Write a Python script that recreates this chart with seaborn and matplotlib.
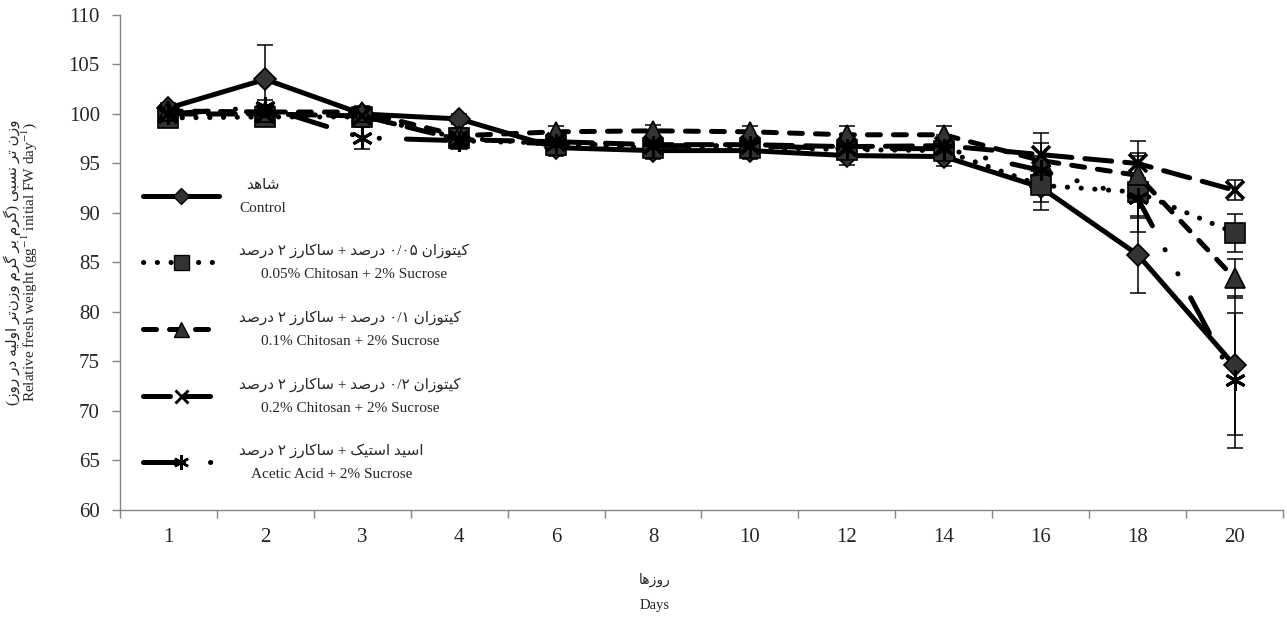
import re
import numpy as np
import pandas as pd
import matplotlib
matplotlib.use("Agg")
import matplotlib.pyplot as plt
from matplotlib.lines import Line2D
from matplotlib.ticker import FixedLocator, MultipleLocator
import seaborn as sns

# ---------------------------------------------------------------- data
days = ["1", "2", "3", "4", "6", "8", "10", "12", "14", "16", "18", "20"]

control = [100.6, 103.5, 100.0, 99.5, 96.6, 96.3, 96.3, 95.8, 95.7, 92.6, 85.8, 74.6]
chit005 = [99.6, 99.7, 99.7, 97.6, 96.9, 96.6, 96.6, 96.4, 96.3, 92.8, 92.1, 88.0]
chit01 = [100.3, 100.2, 100.2, 97.8, 98.2, 98.3, 98.2, 97.9, 97.9, 95.3, 93.8, 83.4]
chit02 = [100.0, 100.0, 99.8, 97.4, 97.2, 96.9, 96.9, 96.7, 96.8, 95.9, 95.0, 92.3]
acetic = [100.0, 100.7, 97.6, 97.3, 97.0, 96.8, 96.8, 96.5, 96.5, 94.3, 91.5, 73.1]

control_sd = [0.5, 3.5, 0.6, 0.5, 0.8, 0.8, 0.8, 1.0, 1.0, 1.5, 3.9, 7.0]
chit005_sd = [0.5, 0.6, 0.6, 0.8, 0.7, 0.7, 0.7, 1.0, 1.0, 2.5, 4.0, 1.9]
chit01_sd = [0.4, 0.5, 0.6, 0.8, 0.6, 0.6, 0.6, 0.9, 0.9, 1.8, 2.0, 2.0]
chit02_sd = [0.5, 0.6, 0.6, 0.8, 0.7, 0.7, 0.7, 1.0, 1.1, 2.2, 2.3, 1.0]
acetic_sd = [0.5, 0.7, 1.1, 0.8, 0.7, 0.7, 0.7, 1.0, 1.0, 1.5, 2.0, 6.8]

labels_fa = ["شاهد",
             "کیتوزان ۰/۰۵ درصد + ساکارز ۲ درصد",
             "کیتوزان ۰/۱ درصد + ساکارز ۲ درصد",
             "کیتوزان ۰/۲ درصد + ساکارز ۲ درصد",
             "اسید استیک + ساکارز ۲ درصد"]
labels_en = ["Control",
             "0.05% Chitosan + 2% Sucrose",
             "0.1% Chitosan + 2% Sucrose",
             "0.2% Chitosan + 2% Sucrose",
             "Acetic Acid + 2% Sucrose"]
ylabel_fa = "وزن تر نسبی (گرم بر گرم وزن\u200cتر اولیه در روز)"
ylabel_en = "Relative fresh weight (gg$^{-1}$ initial FW day$^{-1}$)"
xlabel_fa = "روزها"
xlabel_en = "Days"

# ------------------------------------------------ Persian glyph shaping
# (isolated, final, initial, medial) presentation forms
FORMS = {
    "ا": ("\uFE8D", "\uFE8E", None, None),
    "ب": ("\uFE8F", "\uFE90", "\uFE91", "\uFE92"),
    "ت": ("\uFE95", "\uFE96", "\uFE97", "\uFE98"),
    "د": ("\uFEA9", "\uFEAA", None, None),
    "ر": ("\uFEAD", "\uFEAE", None, None),
    "ز": ("\uFEAF", "\uFEB0", None, None),
    "س": ("\uFEB1", "\uFEB2", "\uFEB3", "\uFEB4"),
    "ش": ("\uFEB5", "\uFEB6", "\uFEB7", "\uFEB8"),
    "ص": ("\uFEB9", "\uFEBA", "\uFEBB", "\uFEBC"),
    "ک": ("\uFB8E", "\uFB8F", "\uFB90", "\uFB91"),
    "گ": ("\uFB92", "\uFB93", "\uFB94", "\uFB95"),
    "ل": ("\uFEDD", "\uFEDE", "\uFEDF", "\uFEE0"),
    "م": ("\uFEE1", "\uFEE2", "\uFEE3", "\uFEE4"),
    "ن": ("\uFEE5", "\uFEE6", "\uFEE7", "\uFEE8"),
    "ه": ("\uFEE9", "\uFEEA", "\uFEEB", "\uFEEC"),
    "و": ("\uFEED", "\uFEEE", None, None),
    "ی": ("\uFBFC", "\uFBFD", "\uFBFE", "\uFBFF"),
}


def shape(text):
    out = []
    for i, ch in enumerate(text):
        if ch not in FORMS:
            if ch != "\u200c":
                out.append(ch)
            continue
        prev = text[i - 1] if i > 0 else ""
        nxt = text[i + 1] if i + 1 < len(text) else ""
        jp = prev in FORMS and FORMS[prev][2] is not None
        jn = nxt in FORMS and FORMS[ch][2] is not None
        iso, fin, ini, med = FORMS[ch]
        out.append(med if (jp and jn) else fin if jp else ini if jn else iso)
    return "".join(out)


def rtl_line(text):
    """Visual order for a right-to-left line."""
    rev = shape(text)[::-1].translate(str.maketrans("()", ")("))
    return re.sub(r"[0-9\u06F0-\u06F9][0-9\u06F0-\u06F9/.]*",
                  lambda m: m.group(0)[::-1], rev)


# ---------------------------------------------------------------- style
sns.set_theme(style="ticks")
SERIF = ["Liberation Serif", "DejaVu Sans"]
plt.rcParams["font.family"] = SERIF
plt.rcParams["mathtext.fontset"] = "stix"
AX_GREY = "#858585"

series = [
    ("control", control, control_sd,
     dict(marker="D", markersize=11.5, dashes="solid", mew=1.2)),
    ("chit005", chit005, chit005_sd,
     dict(marker="s", markersize=15, dashes=(0, (0.05, 2.7)), mew=1.2)),
    ("chit01", chit01, chit01_sd,
     dict(marker="^", markersize=15, dashes=(0, (2.6, 2.6)), mew=1.2)),
    ("chit02", chit02, chit02_sd,
     dict(marker="x", markersize=13, dashes=(0, (5.4, 2.6)), mew=2.6)),
    ("acetic", acetic, acetic_sd,
     dict(marker=(6, 2, 0), markersize=15,
          dashes=(0, (8, 5.4, 0.05, 5.4, 0.05, 5.4)), mew=2.2)),
]

pos = np.arange(len(days))
frames = []
for name, vals, sds, _ in series:
    frames.append(pd.DataFrame({"pos": pos, "day": days, "treatment": name,
                                "value": vals, "sd": sds}))
df = pd.concat(frames, ignore_index=True)

fig = plt.figure(figsize=(12.87, 6.19), dpi=100)
ax = fig.add_axes([0.0932, 0.1761, 0.9037, 0.7997])

LW = 3.6
FILL = "#333333"
handles = []
for k, (name, _, _, st) in enumerate(series):
    sub = df[df["treatment"] == name]
    ax.errorbar(sub["pos"], sub["value"], yerr=sub["sd"], fmt="none",
                ecolor="black", elinewidth=1.1, capsize=5.5, capthick=1.1,
                zorder=2)
    sns.lineplot(data=sub, x="pos", y="value", ax=ax, color="black",
                 linewidth=LW, linestyle=st["dashes"], marker=st["marker"],
                 markersize=st["markersize"], markerfacecolor=FILL,
                 mec="black", mew=st["mew"], dash_capstyle="round",
                 solid_capstyle="round", legend=False, zorder=3 + k)
    handles.append(Line2D([], [], color="black", linewidth=LW,
                          linestyle=st["dashes"], marker=st["marker"],
                          markersize=st["markersize"] * 0.72,
                          markerfacecolor=FILL, markeredgecolor="black",
                          markeredgewidth=st["mew"] * 0.8,
                          dash_capstyle="round", solid_capstyle="round"))

# ---------------------------------------------------------------- axes
ax.set_xlim(-0.5, len(days) - 0.5)
ax.set_ylim(60, 110)
ax.yaxis.set_major_locator(MultipleLocator(5))
ax.set_xticks(pos)
ax.set_xticklabels(days)
ax.xaxis.set_minor_locator(FixedLocator(np.arange(-0.5, len(days), 1.0)))
ax.tick_params(axis="x", which="major", length=0, pad=13, labelsize=15)
ax.tick_params(axis="x", which="minor", length=6, width=1, color=AX_GREY,
               direction="out")
ax.tick_params(axis="y", which="major", length=5.5, width=1, color=AX_GREY,
               direction="out", pad=9, labelsize=15)
ax.set_xlabel("")
ax.set_ylabel("")
for side in ("top", "right"):
    ax.spines[side].set_visible(False)
for side in ("left", "bottom"):
    ax.spines[side].set_color(AX_GREY)
    ax.spines[side].set_linewidth(1.0)
ax.grid(False)

# ---------------------------------------------------------------- legend
leg_labels = [rtl_line(fa) + "\n" + en for fa, en in zip(labels_fa, labels_en)]
leg = ax.legend(handles, leg_labels, loc="upper left",
                bbox_to_anchor=(0.0198, 0.669), frameon=False, fontsize=11,
                handlelength=5.0, handletextpad=1.3, labelspacing=1.9,
                borderpad=0, borderaxespad=0)
for t in leg.get_texts():
    t.set_multialignment("center")
    t.set_linespacing(2.0)

# ---------------------------------------------------------------- labels
W, H = 1287.0, 619.0
fig.text(12 / W, 1 - 262 / H, rtl_line(ylabel_fa), rotation=90,
         ha="center", va="center", fontsize=11, family=SERIF)
fig.text(29 / W, 1 - 262 / H, ylabel_en, rotation=90,
         ha="center", va="center", fontsize=11, family=SERIF)
fig.text(655 / W, 1 - 580 / H, rtl_line(xlabel_fa), ha="center",
         va="center", fontsize=10, family=SERIF)
fig.text(655 / W, 1 - 605 / H, xlabel_en, ha="center", va="center",
         fontsize=10.5, family=SERIF)

fig.savefig("out.png", dpi=100, facecolor="white")
